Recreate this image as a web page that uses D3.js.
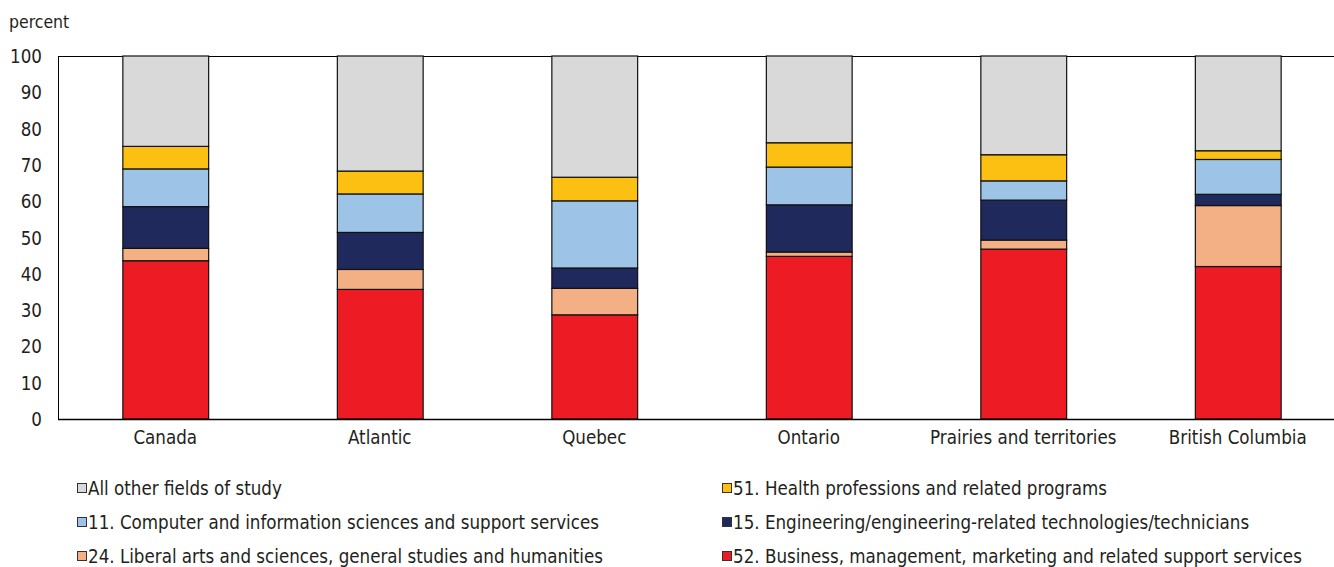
<!DOCTYPE html>
<html><head><meta charset="utf-8">
<script src="https://cdn.jsdelivr.net/npm/d3@7"></script>
<style>
body{margin:0;background:#fff;}
text{font-family:"Liberation Sans Narrow","Arial Narrow","DejaVu Sans Condensed",sans-serif;fill:#231f20;}
</style></head>
<body><svg id="c" width="1334" height="567"></svg>
<script>
const categories = ["Canada","Atlantic","Quebec","Ontario","Prairies and territories","British Columbia"];
const business    = [43.6, 35.7, 28.7, 44.8, 46.8, 42.0];
const liberal     = [3.4, 5.5, 7.3, 1.2, 2.5, 16.8];
const engineering = [11.5, 10.2, 5.6, 13.0, 11.0, 3.1];
const computer    = [10.4, 10.6, 18.5, 10.4, 5.3, 9.6];
const health      = [6.2, 6.3, 6.5, 6.7, 7.2, 2.4];
const other       = [24.9, 31.7, 33.4, 23.9, 27.2, 26.1];
const yTicks = [0,10,20,30,40,50,60,70,80,90,100];

const seriesNames = {
  business:"52. Business, management, marketing and related support services",
  liberal:"24. Liberal arts and sciences, general studies and humanities",
  engineering:"15. Engineering/engineering-related technologies/technicians",
  computer:"11. Computer and information sciences and support services",
  health:"51. Health professions and related programs",
  other:"All other fields of study"
};
const colors = {business:"#ed1c24", liberal:"#f2b084", engineering:"#1f295c", computer:"#9dc3e6", health:"#fbc012", other:"#d9d9d9"};
const keys = ["business","liberal","engineering","computer","health","other"];
const data = categories.map((c,i)=>({cat:c,business:business[i],liberal:liberal[i],engineering:engineering[i],computer:computer[i],health:health[i],other:other[i]}));

const svg = d3.select("#c");
const L=58, T=56, B=419, R=1345;
const x = d3.scaleBand().domain(categories).range([L,R]).paddingInner(0.6).paddingOuter(0.3);
const y = d3.scaleLinear().domain([0,100]).range([B,T]);

svg.append("line").attr("x1",L).attr("x2",1334).attr("y1",T+0.5).attr("y2",T+0.5).attr("stroke","#000").attr("stroke-width",1);
svg.append("line").attr("x1",L+0.5).attr("x2",L+0.5).attr("y1",T).attr("y2",B).attr("stroke","#000").attr("stroke-width",1);

const stack = d3.stack().keys(keys)(data);
svg.append("g").selectAll("g").data(stack).join("g")
  .attr("fill",d=>colors[d.key])
  .selectAll("rect").data(d=>d).join("rect")
  .attr("x",d=>x(d.data.cat)+0.5)
  .attr("width",x.bandwidth())
  .attr("y",d=>y(d[1]))
  .attr("height",d=>y(d[0])-y(d[1]))
  .attr("stroke","#111").attr("stroke-width",1.2);

svg.append("line").attr("x1",L).attr("x2",1334).attr("y1",B+0.5).attr("y2",B+0.5).attr("stroke","#000").attr("stroke-width",1.3);

const ya = svg.append("g").attr("transform",`translate(${L},0)`).call(d3.axisLeft(y).tickValues(yTicks).tickSize(0).tickPadding(16));
ya.select(".domain").remove();
ya.selectAll("text").style("font-size","18.6px").attr("fill","#231f20").attr("dy","0.35em");

const xa = svg.append("g").attr("transform",`translate(0,${B})`).call(d3.axisBottom(x).tickSize(0).tickPadding(12));
xa.select(".domain").remove();
xa.selectAll("text").style("font-size","18.6px").attr("fill","#231f20");

svg.append("text").attr("x",9).attr("y",28).style("font-size","17.5px").text("percent");

const legendOrder = [["other",77,488],["health",722,488],["computer",77,522],["engineering",722,522],["liberal",77,556],["business",722,556]];
const lg = svg.append("g");
legendOrder.forEach(([k,lx,ly])=>{
  lg.append("rect").attr("x",lx+0.5).attr("y",ly-4.5).attr("width",9).attr("height",9).attr("fill",colors[k]).attr("stroke","#333").attr("stroke-width",1);
  lg.append("text").attr("x",lx+11).attr("y",ly).attr("dy","0.35em").style("font-size","18.6px").text(seriesNames[k]);
});
</script></body></html>
